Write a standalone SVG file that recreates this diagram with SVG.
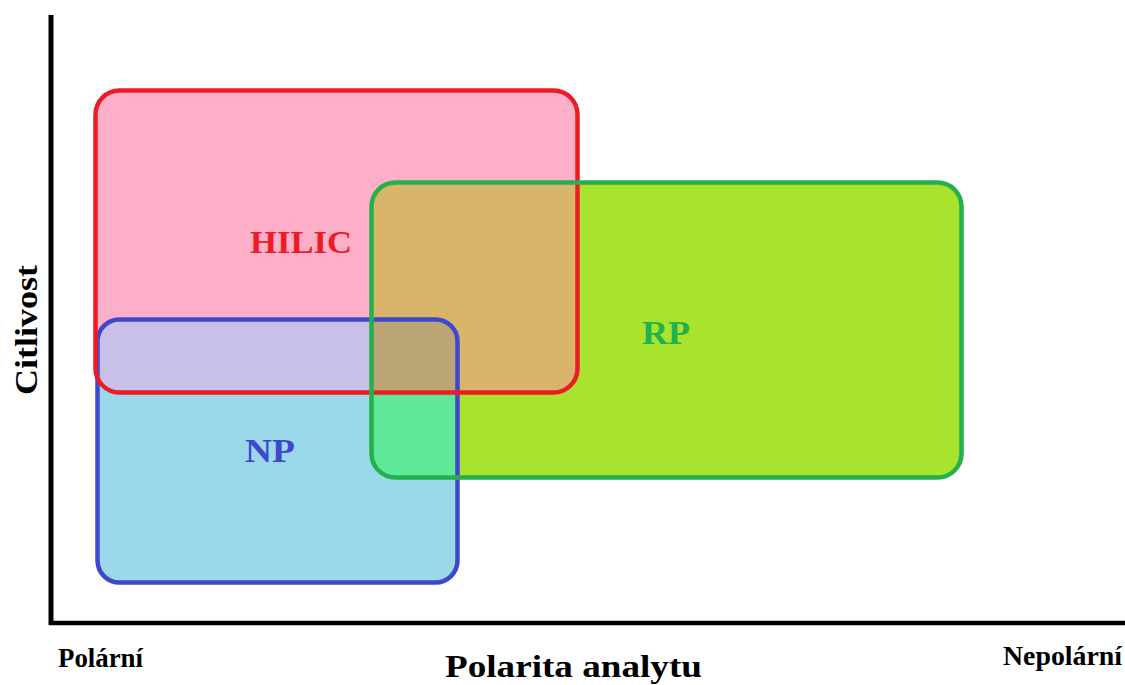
<svg xmlns="http://www.w3.org/2000/svg" width="1125" height="685" viewBox="0 0 1125 685">
  <style>
    .lbl { font-family: "Liberation Serif", "Times New Roman", serif; font-weight: bold; }
    .axis { stroke: #000; fill: none; }
    .edge { fill: none; stroke-width: 4.5; }
  </style>
  <defs>
    <clipPath id="clipH"><rect x="95.5" y="90.5" width="482" height="302" rx="24"/></clipPath>
    <clipPath id="clipR"><rect x="371.5" y="182.5" width="590" height="295" rx="24"/></clipPath>
    <clipPath id="clipN"><rect x="97.5" y="319.5" width="360" height="263" rx="22"/></clipPath>
  </defs>
  <rect width="1125" height="685" fill="#fff"/>

  <!-- fills -->
  <g id="fills">
    <rect x="95.5" y="90.5" width="482" height="302" rx="24" fill="#fdaec9"/>
    <rect x="371.5" y="182.5" width="590" height="295" rx="24" fill="#a8e32e"/>
    <rect x="97.5" y="319.5" width="360" height="263" rx="22" fill="#9bd9ea"/>
    <g clip-path="url(#clipH)">
      <rect x="371.5" y="182.5" width="590" height="295" rx="24" fill="#d9b46b"/>
      <rect x="97.5" y="319.5" width="360" height="263" rx="22" fill="#c8c0e6"/>
    </g>
    <g clip-path="url(#clipN)">
      <rect x="371.5" y="182.5" width="590" height="295" rx="24" fill="#5fe897"/>
    </g>
    <g clip-path="url(#clipN)">
      <g clip-path="url(#clipH)">
        <rect x="371.5" y="182.5" width="590" height="295" rx="24" fill="#bca575"/>
      </g>
    </g>
  </g>

  <g id="NP">
    <rect class="edge" x="97.5" y="319.5" width="360" height="263" rx="22" stroke="#3f48cc"/>
    <text class="lbl" x="245" y="462" font-size="33" fill="#3f48cc" textLength="50" lengthAdjust="spacingAndGlyphs">NP</text>
  </g>
  <g id="HILIC">
    <rect class="edge" x="95.5" y="90.5" width="482" height="302" rx="24" stroke="#ed1c24"/>
    <text class="lbl" x="250" y="253" font-size="32" fill="#ed1c24" textLength="102" lengthAdjust="spacingAndGlyphs">HILIC</text>
  </g>
  <g id="RP">
    <rect class="edge" x="371.5" y="182.5" width="590" height="295" rx="24" stroke="#22b14c"/>
    <text class="lbl" x="642" y="344" font-size="33" fill="#22b14c" textLength="48" lengthAdjust="spacingAndGlyphs">RP</text>
  </g>

  <g id="axes">
    <line class="axis" x1="51" y1="15" x2="51" y2="625" stroke-width="5"/>
    <line class="axis" x1="49" y1="623" x2="1125" y2="623" stroke-width="4.5"/>
    <text class="lbl" x="58" y="667" font-size="27" fill="#000" textLength="85" lengthAdjust="spacingAndGlyphs">Polární</text>
    <text class="lbl" x="1003" y="665" font-size="27" fill="#000" textLength="119" lengthAdjust="spacingAndGlyphs">Nepolární</text>
    <text class="lbl" x="445" y="677" font-size="31" fill="#000" textLength="257" lengthAdjust="spacingAndGlyphs">Polarita analytu</text>
    <text class="lbl" transform="translate(37,395) rotate(-90)" x="0" y="0" font-size="32" fill="#000" textLength="130" lengthAdjust="spacingAndGlyphs">Citlivost</text>
  </g>
</svg>
